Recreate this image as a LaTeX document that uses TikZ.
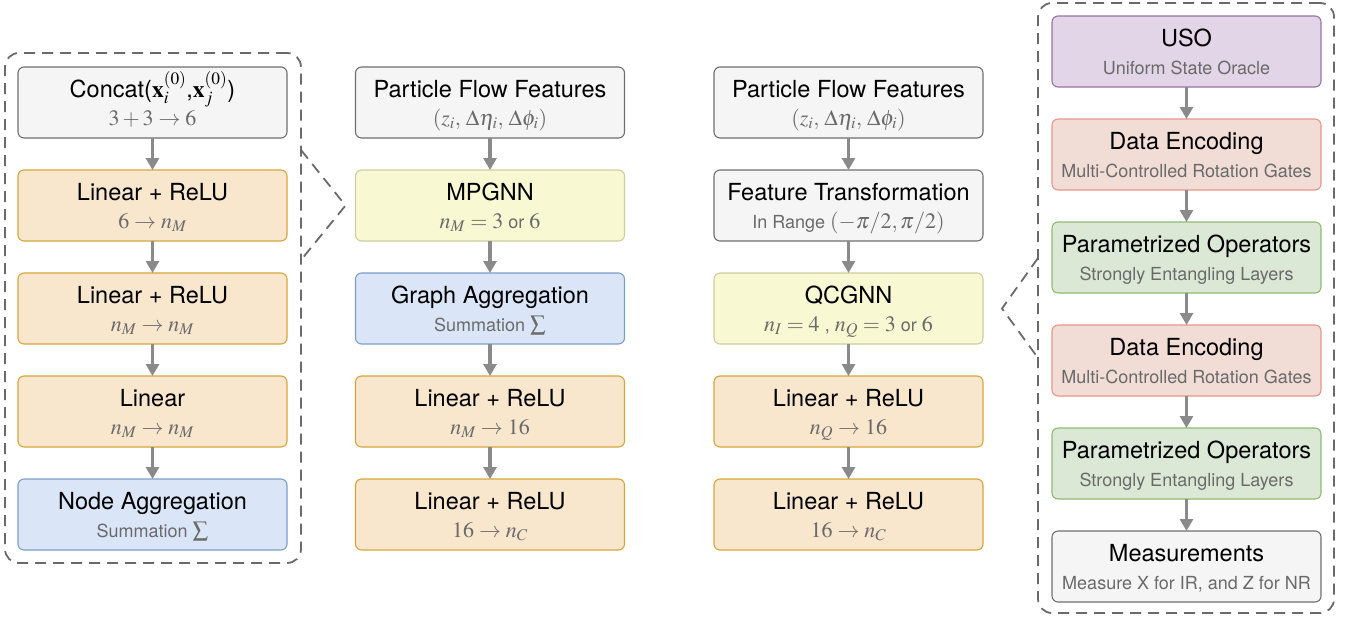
\documentclass[tikz,border=0pt]{standalone}
\usepackage{mathptmx}
\usepackage[no-math]{fontspec}
\setmainfont{TeX Gyre Heros}
\usetikzlibrary{arrows.meta}
\definecolor{gfill}{HTML}{F5F5F5}\definecolor{gline}{HTML}{6E6E6E}
\definecolor{ofill}{HTML}{F8E6CD}\definecolor{oline}{HTML}{D6A43C}
\definecolor{yfill}{HTML}{F8F8D2}\definecolor{yline}{HTML}{CDCDA0}
\definecolor{bfill}{HTML}{DAE6F8}\definecolor{bline}{HTML}{7E9CCB}
\definecolor{pfill}{HTML}{E1D5E7}\definecolor{pline}{HTML}{9673A6}
\definecolor{rfill}{HTML}{F1DDD6}\definecolor{rline}{HTML}{E8958A}
\definecolor{efill}{HTML}{DBE8D6}\definecolor{eline}{HTML}{8FBB70}
\definecolor{subc}{HTML}{6A6A6A}\definecolor{arrc}{HTML}{8A8A8A}
\definecolor{framec}{HTML}{6A6A6A}
\newcommand\mth[1]{{\fontsize{22}{25}\selectfont$#1$}}
\newcommand\mkbox[6]{%
  \node[#2] (#1) at (#3,#4) {};
  \node[ttl] (#1t) at ([yshift=-30pt]#1.north) {#5};
  \node[subt] (#1s) at ([yshift=-58pt]#1.north) {#6};
}
\begin{document}
\begin{tikzpicture}[x=1pt,y=-1pt,
  box/.style={draw, rounded corners=6pt, line width=1.1pt, minimum width=269pt, minimum height=71pt, inner sep=0pt, outer sep=0pt},
  gbox/.style={box, fill=gfill, draw=gline},
  obox/.style={box, fill=ofill, draw=oline},
  ybox/.style={box, fill=yfill, draw=yline},
  bbox/.style={box, fill=bfill, draw=bline},
  pbox/.style={box, fill=pfill, draw=pline},
  rbox/.style={box, fill=rfill, draw=rline},
  ebox/.style={box, fill=efill, draw=eline},
  ttl/.style={anchor=base, inner sep=0pt, font=\fontsize{23.5}{28}\selectfont, text=black},
  subt/.style={anchor=base, inner sep=0pt, font=\fontsize{18}{21}\selectfont, text=subc},
  arr/.style={draw=arrc, line width=3.5pt, -{Triangle[length=12pt,width=13pt]}},
  frame/.style={draw=framec, dash pattern=on 11pt off 7pt, line width=1.8pt, rounded corners=14pt, inner sep=0pt, outer sep=0pt},
  link/.style={draw=framec, dash pattern=on 11pt off 7pt, line width=1.8pt},
]
\useasboundingbox (0,0) rectangle (1354,616);
% frames
\node[frame, minimum width=296pt, minimum height=510pt] (f1) at (153,308) {};
\node[frame, minimum width=296pt, minimum height=610pt] (f4) at (1186,308) {};
% column 1
\mkbox{c1}{gbox}{152.5}{102.5}{Concat($\mathbf{x}_i^{(0)}$,$\mathbf{x}_j^{(0)}$)}{\mth{3+3\rightarrow 6}}
\mkbox{c2}{obox}{152.5}{205.5}{Linear + ReLU}{\mth{6\rightarrow n_M}}
\mkbox{c3}{obox}{152.5}{308.5}{Linear + ReLU}{\mth{n_M\rightarrow n_M}}
\mkbox{c4}{obox}{152.5}{411.5}{Linear}{\mth{n_M\rightarrow n_M}}
\mkbox{c5}{bbox}{152.5}{514.5}{Node Aggregation}{Summation \mth{\sum}}
% column 2
\mkbox{d1}{gbox}{490}{102.5}{Particle Flow Features}{\mth{(z_i,\, \Delta\eta_i,\, \Delta\phi_i)}}
\mkbox{d2}{ybox}{490}{205.5}{MPGNN}{\mth{n_M=3} or \mth{6}}
\mkbox{d3}{bbox}{490}{308.5}{Graph Aggregation}{Summation \mth{\sum}}
\mkbox{d4}{obox}{490}{411.5}{Linear + ReLU}{\mth{n_M\rightarrow 16}}
\mkbox{d5}{obox}{490}{514.5}{Linear + ReLU}{\mth{16\rightarrow n_C}}
% column 3
\mkbox{e1}{gbox}{848.5}{102.5}{Particle Flow Features}{\mth{(z_i,\, \Delta\eta_i,\, \Delta\phi_i)}}
\mkbox{e2}{gbox}{848.5}{205.5}{Feature Transformation}{In Range \mth{(-\pi/2,\pi/2)}}
\mkbox{e3}{ybox}{848.5}{308.5}{QCGNN}{\mth{n_I=4}\ , \mth{n_Q=3} or \mth{6}}
\mkbox{e4}{obox}{848.5}{411.5}{Linear + ReLU}{\mth{n_Q\rightarrow 16}}
\mkbox{e5}{obox}{848.5}{514.5}{Linear + ReLU}{\mth{16\rightarrow n_C}}
% column 4
\mkbox{q1}{pbox}{1186.5}{51.5}{USO}{Uniform State Oracle}
\mkbox{q2}{rbox}{1186.5}{154.5}{Data Encoding}{Multi-Controlled Rotation Gates}
\mkbox{q3}{ebox}{1186.5}{257.5}{Parametrized Operators}{Strongly Entangling Layers}
\mkbox{q4}{rbox}{1186.5}{360.5}{Data Encoding}{Multi-Controlled Rotation Gates}
\mkbox{q5}{ebox}{1186.5}{463.5}{Parametrized Operators}{Strongly Entangling Layers}
\mkbox{q6}{gbox}{1186.5}{566.5}{Measurements}{Measure X for IR, and Z for NR}
% arrows
\foreach \c in {c,d,e}{
  \draw[arr] (\c1.south) -- (\c2.north);
  \draw[arr] (\c2.south) -- (\c3.north);
  \draw[arr] (\c3.south) -- (\c4.north);
  \draw[arr] (\c4.south) -- (\c5.north);
}
\draw[arr] (q1.south) -- (q2.north);
\draw[arr] (q2.south) -- (q3.north);
\draw[arr] (q3.south) -- (q4.north);
\draw[arr] (q4.south) -- (q5.north);
\draw[arr] (q5.south) -- (q6.north);
% zoom links
\coordinate (l1a) at (301,150);
\coordinate (l1m) at ([xshift=-10pt]d2.west);
\coordinate (l1b) at (301,260);
\draw[link] (l1a) -- (l1m) -- (l1b);
\coordinate (l2a) at (1038,258);
\coordinate (l2m) at ([xshift=19pt]e3.east);
\coordinate (l2b) at (1038,358);
\draw[link] (l2a) -- (l2m) -- (l2b);
\end{tikzpicture}
\end{document}
